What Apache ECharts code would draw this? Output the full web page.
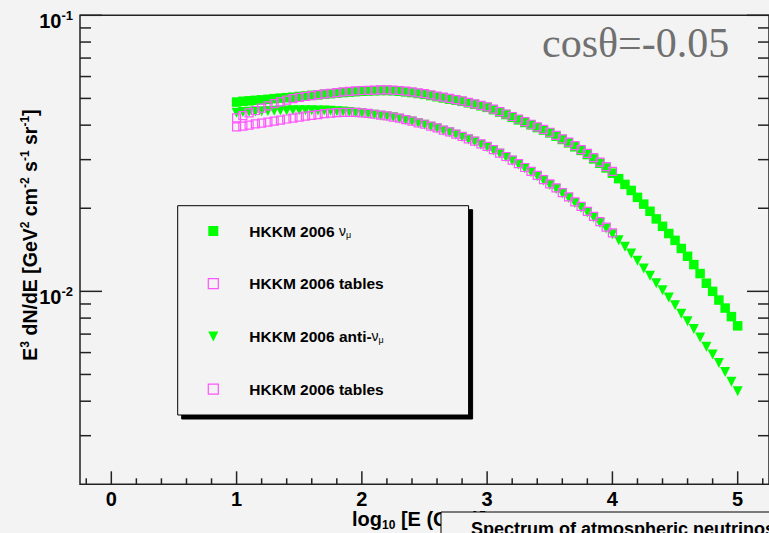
<!DOCTYPE html>
<html><head><meta charset="utf-8">
<script src="https://cdn.jsdelivr.net/npm/echarts@6/dist/echarts.min.js"></script>
<style>html,body{margin:0;padding:0;background:#f3f3f3;} #c{width:769px;height:533px;}</style>
</head><body><div id="c"></div>
<script>
// ---- data (log10 of energy in GeV, E^3 dN/dE) ----
const logE = [1.00,1.05,1.10,1.15,1.20,1.25,1.30,1.35,1.40,1.45,1.50,1.55,1.60,1.65,1.70,1.75,1.80,1.85,1.90,1.95,
  2.00,2.05,2.10,2.15,2.20,2.25,2.30,2.35,2.40,2.45,2.50,2.55,2.60,2.65,2.70,2.75,2.80,2.85,2.90,2.95,
  3.00,3.05,3.10,3.15,3.20,3.25,3.30,3.35,3.40,3.45,3.50,3.55,3.60,3.65,3.70,3.75,3.80,3.85,3.90,3.95,
  4.00,4.05,4.10,4.15,4.20,4.25,4.30,4.35,4.40,4.45,4.50,4.55,4.60,4.65,4.70,4.75,4.80,4.85,4.90,4.95,5.00];
const nuMu = [0.0485,0.0488,0.0490,0.0492,0.0494,0.0496,0.0499,0.0501,0.0503,0.0505,
  0.0508,0.0510,0.0513,0.0515,0.0518,0.0520,0.0523,0.0525,0.0527,0.0529,
  0.0531,0.0532,0.0533,0.0534,0.0534,0.0533,0.0531,0.0528,0.0525,0.0521,
  0.0517,0.0512,0.0507,0.0502,0.0497,0.0493,0.0488,0.0482,0.0476,0.0470,
  0.0464,0.0455,0.0446,0.0437,0.0427,0.0418,0.0409,0.0401,0.0392,0.0384,
  0.0375,0.0365,0.0355,0.0345,0.0334,0.0324,0.0313,0.0302,0.0291,0.0280,
  0.0268,0.0256,0.0244,0.0232,0.0219,0.0207,0.0195,0.0183,0.0172,0.0162,
  0.0153,0.0143,0.0134,0.0125,0.0116,0.0107,0.0100,0.0093,0.0087,0.0081,0.0075];
const antiNuMu = [0.0444,0.0446,0.0447,0.0448,0.0449,0.0450,0.0451,0.0452,0.0452,0.0453,
  0.0453,0.0453,0.0453,0.0452,0.0452,0.0451,0.0449,0.0448,0.0446,0.0444,
  0.0442,0.0439,0.0436,0.0433,0.0430,0.0427,0.0422,0.0417,0.0412,0.0406,
  0.0401,0.0395,0.0389,0.0382,0.0376,0.0369,0.0362,0.0355,0.0348,0.0340,
  0.0333,0.0324,0.0315,0.0306,0.0297,0.0288,0.0279,0.0270,0.0261,0.0252,
  0.0243,0.0235,0.0226,0.0218,0.0209,0.0201,0.0193,0.0185,0.0177,0.0169,
  0.0161,0.0153,0.0145,0.0137,0.0129,0.0121,0.0114,0.0107,0.0101,0.0095,
  0.0089,0.0083,0.0078,0.0073,0.0068,0.0063,0.0059,0.0055,0.0051,0.0047,0.00435];
const logETables = [1.00,1.05,1.10,1.15,1.20,1.25,1.30,1.35,1.40,1.45,1.50,1.55,1.60,1.65,1.70,1.75,1.80,1.85,1.90,1.95,
  2.00,2.05,2.10,2.15,2.20,2.25,2.30,2.35,2.40,2.45,2.50,2.55,2.60,2.65,2.70,2.75,2.80,2.85,2.90,2.95,
  3.00,3.05,3.10,3.15,3.20,3.25,3.30,3.35,3.40,3.45,3.50,3.55,3.60,3.65,3.70,3.75,3.80,3.85,3.90,3.95,4.00];
const nuMuTables = [0.0425,0.0433,0.0443,0.0452,0.0461,0.0470,0.0479,0.0486,0.0493,0.0499,
  0.0504,0.0508,0.0512,0.0516,0.0519,0.0522,0.0525,0.0528,0.0530,0.0532,
  0.0534,0.0535,0.0536,0.0537,0.0537,0.0536,0.0534,0.0531,0.0528,0.0524,
  0.0520,0.0515,0.0510,0.0505,0.0500,0.0495,0.0490,0.0484,0.0478,0.0472,
  0.0466,0.0457,0.0448,0.0439,0.0430,0.0421,0.0412,0.0403,0.0394,0.0386,
  0.0377,0.0367,0.0357,0.0347,0.0337,0.0326,0.0316,0.0305,0.0294,0.0283,0.0272];
const antiNuMuTables = [0.0394,0.0397,0.0400,0.0404,0.0407,0.0410,0.0414,0.0417,0.0421,0.0424,
  0.0428,0.0431,0.0434,0.0437,0.0440,0.0442,0.0444,0.0445,0.0445,0.0445,
  0.0443,0.0441,0.0438,0.0435,0.0432,0.0428,0.0424,0.0419,0.0414,0.0408,
  0.0403,0.0397,0.0391,0.0384,0.0378,0.0371,0.0364,0.0357,0.0350,0.0342,
  0.0335,0.0326,0.0317,0.0308,0.0299,0.0290,0.0281,0.0272,0.0263,0.0254,
  0.0245,0.0237,0.0228,0.0220,0.0211,0.0203,0.0195,0.0187,0.0179,0.0171,0.0163];
// ---- axis ticks ----
const xTicks = [0,1,2,3,4,5];
const xMinorTicks = [-0.2,0.2,0.4,0.6,0.8,1.2,1.4,1.6,1.8,2.2,2.4,2.6,2.8,3.2,3.4,3.6,3.8,4.2,4.4,4.6,4.8,5.2];
const yTicks = [0.01,0.1];
const yMinorTicks = [0.003,0.004,0.005,0.006,0.007,0.008,0.009,0.02,0.03,0.04,0.05,0.06,0.07,0.08,0.09];
const X_MIN = -0.25, X_MAX = 5.25, Y_MIN = 0.002, Y_MAX = 0.1;

const N1 = 'HKKM 2006 νμ', N2 = 'HKKM 2006 tables (νμ)', N3 = 'HKKM 2006 anti-νμ', N4 = 'HKKM 2006 tables (anti-νμ)';
const FONT = "'Liberation Sans', Arial, Helvetica, sans-serif";
const GREEN = '#00ff00', PINK = '#ff55ff', AXC = '#222222';

const zip = (xs, ys) => xs.map((x, i) => [x, ys[i]]);

const chart = echarts.init(document.getElementById('c'), null, {renderer: 'svg'});
chart.setOption({
  backgroundColor: '#f3f3f3',
  animation: false,
  grid: {left: 80, right: -3, top: 15.3, bottom: 48.7, show: true, borderColor: AXC, borderWidth: 1.5, backgroundColor: 'transparent'},
  xAxis: {
    type: 'value', min: X_MIN, max: X_MAX, splitNumber: 5,
    axisLine: {show: false}, axisTick: {show: false}, splitLine: {show: false},
    axisLabel: {showMinLabel: false, showMaxLabel: false, margin: 5, color: '#000', fontSize: 20, fontWeight: 'bold', fontFamily: FONT}
  },
  yAxis: {
    type: 'log', logBase: 10, min: Y_MIN, max: Y_MAX,
    axisLine: {show: false}, axisTick: {show: false}, splitLine: {show: false}, minorTick: {show: false},
    axisLabel: {
      showMinLabel: false, margin: 7, padding: [12, 0, 0, 0],
      formatter: v => '{b|10}{s|' + Math.round(Math.log10(v)) + '}',
      rich: {
        b: {fontSize: 20, fontWeight: 'bold', fontFamily: FONT, color: '#000'},
        s: {fontSize: 13, fontWeight: 'bold', fontFamily: FONT, color: '#000', padding: [0, 0, 12, 0]}
      }
    }
  },
  legend: {
    left: 177.7, top: 205.7, orient: 'vertical', selectedMode: false,
    backgroundColor: '#f3f3f3', borderColor: '#000', borderWidth: 1,
    shadowColor: '#000', shadowBlur: 0, shadowOffsetX: 4, shadowOffsetY: 4,
    padding: [15.3, 19.3, 15.9, 30], itemGap: 32.7, itemWidth: 10, itemHeight: 10, symbolRotate: 0,
    data: [
      {name: N1, icon: 'rect', itemStyle: {color: GREEN, borderWidth: 0}},
      {name: N2, icon: 'rect', itemStyle: {color: 'rgba(0,0,0,0)', borderColor: PINK, borderWidth: 1.2}},
      {name: N3, icon: 'path://M0,0L10,0L5,10Z', itemStyle: {color: GREEN, borderWidth: 0}},
      {name: N4, icon: 'rect', itemStyle: {color: 'rgba(0,0,0,0)', borderColor: PINK, borderWidth: 1.2}}
    ],
    formatter: name => {
      if (name === N1) return '{t|HKKM 2006 }{g|ν}{s|μ}';
      if (name === N3) return '{t|HKKM 2006 anti-}{g|ν}{s|μ}';
      return '{t|HKKM 2006 tables}';
    },
    textStyle: {
      padding: [0, 0, 0, 26], width: 200, height: 20, lineHeight: 20,
      rich: {
        t: {fontSize: 15.5, fontWeight: 'bold', fontFamily: FONT, color: '#000', lineHeight: 20},
        g: {fontSize: 14, fontFamily: FONT, color: '#000', lineHeight: 20},
        s: {fontSize: 9, fontFamily: FONT, color: '#000', padding: [8, 0, 0, 0]}
      }
    }
  },
  series: [
    {name: N1, type: 'scatter', data: zip(logE, nuMu), symbol: 'rect', symbolSize: 9.5,
     itemStyle: {color: GREEN, opacity: 1}, z: 2},
    {name: N3, type: 'scatter', data: zip(logE, antiNuMu), symbol: 'triangle', symbolRotate: 180, symbolSize: 10,
     itemStyle: {color: GREEN, opacity: 1}, z: 2},
    {name: N2, type: 'scatter', data: zip(logETables, nuMuTables), symbol: 'rect', symbolSize: 8,
     itemStyle: {color: 'rgba(0,0,0,0)', borderColor: PINK, borderWidth: 1.2, opacity: 1}, z: 3},
    {name: N4, type: 'scatter', data: zip(logETables, antiNuMuTables), symbol: 'rect', symbolSize: 8,
     itemStyle: {color: 'rgba(0,0,0,0)', borderColor: PINK, borderWidth: 1.2, opacity: 1}, z: 3},
    {
      type: 'custom', silent: true, z: 5, clip: false,
      data: yMinorTicks.map(v => [X_MIN, v, 0]).concat(yTicks.map(v => [X_MIN, v, 1])),
      encode: {x: 0, y: 1},
      renderItem: (params, api) => {
        const len = api.value(2) ? 22 : 11;
        const l = api.coord([X_MIN, api.value(1)]);
        const r = api.coord([X_MAX, api.value(1)]);
        const st = {stroke: AXC, lineWidth: 1.5};
        return {type: 'group', children: [
          {type: 'line', shape: {x1: l[0], y1: l[1], x2: l[0] + len, y2: l[1]}, style: st},
          {type: 'line', shape: {x1: r[0] - len, y1: r[1], x2: r[0], y2: r[1]}, style: st}
        ]};
      }
    },
    {
      type: 'custom', silent: true, z: 5, clip: false,
      data: xMinorTicks.map(v => [v, Y_MIN, 0]).concat(xTicks.map(v => [v, Y_MIN, 1])),
      encode: {x: 0, y: 1},
      renderItem: (params, api) => {
        const len = api.value(2) ? 13 : 6;
        const p = api.coord([api.value(0), Y_MIN]);
        return {type: 'line', shape: {x1: p[0], y1: p[1], x2: p[0], y2: p[1] - len}, style: {stroke: AXC, lineWidth: 1.5}};
      }
    }
  ],
  graphic: [
    {type: 'text', x: 30, y: 235, rotation: Math.PI / 2, z: 10,
     style: {text: '{t|E}{s|3}{t| dN/dE [GeV}{s|2}{t| cm}{s|-2}{t| s}{s|-1}{t| sr}{s|-1}{t|]}', align: 'center', verticalAlign: 'middle',
       rich: {t: {fontSize: 19.5, fontWeight: 'bold', fontFamily: FONT, fill: '#000'},
              s: {fontSize: 12, fontWeight: 'bold', fontFamily: FONT, fill: '#000', padding: [0, 0, 11, 0]}}}},
    {type: 'text', x: 352, y: 519, z: 10,
     style: {text: '{t|log}{s|10}{t| [E (GeV)]}', align: 'left', verticalAlign: 'middle',
       rich: {t: {fontSize: 20, fontWeight: 'bold', fontFamily: FONT, fill: '#000'},
              s: {fontSize: 12, fontWeight: 'bold', fontFamily: FONT, fill: '#000', padding: [12, 0, 0, 0]}}}},
    {type: 'rect', z: 11, shape: {x: 441, y: 512, width: 340, height: 40},
     style: {fill: '#f3f3f3', stroke: '#000', lineWidth: 1}},
    {type: 'text', x: 471, y: 520, z: 12,
     style: {text: 'Spectrum of atmospheric neutrinos', align: 'left', verticalAlign: 'top',
       fontSize: 18, fontWeight: 'bold', fontFamily: FONT, fill: '#000'}},
    {type: 'text', x: 542, y: 64, z: 10,
     style: {text: 'cosθ=-0.05', align: 'left', verticalAlign: 'bottom',
       fontSize: 42, fontFamily: "'Liberation Serif', 'DejaVu Serif', serif", fill: '#707070'}}
  ]
});
</script></body></html>
